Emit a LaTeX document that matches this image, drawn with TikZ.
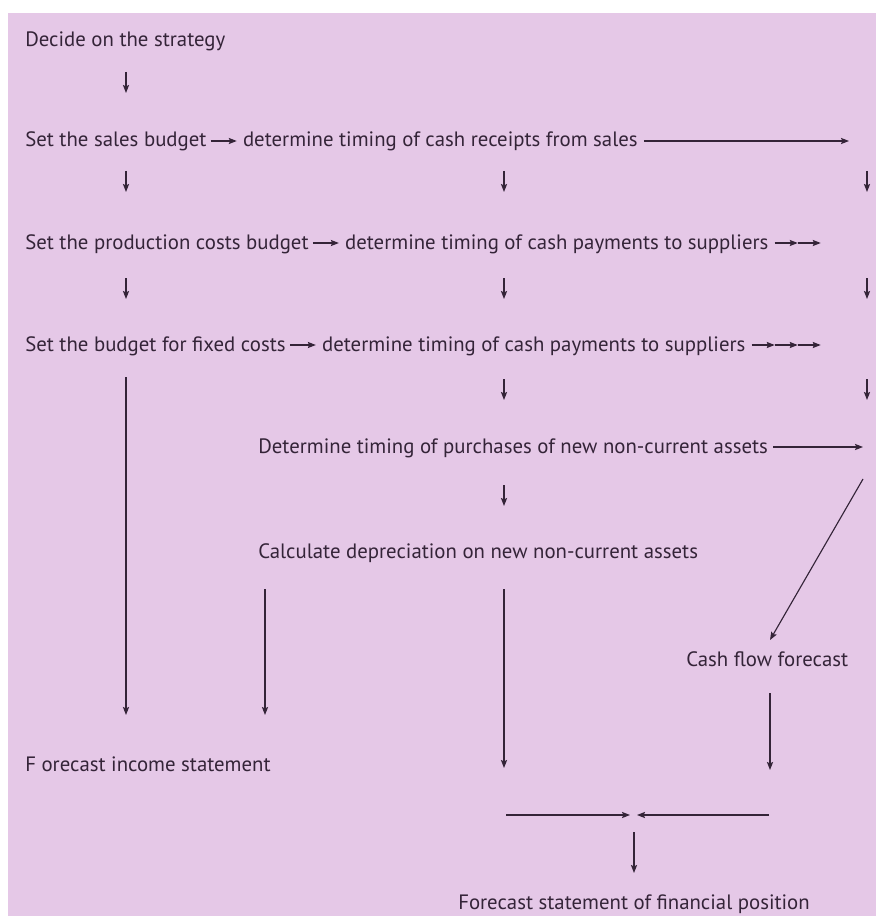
\documentclass[tikz,border=0pt]{standalone}
\usepackage{fontspec}
\setmainfont{PT Sans}
\usetikzlibrary{arrows.meta,calc}
\definecolor{bg}{RGB}{229,200,231}
\definecolor{ink}{RGB}{52,36,56}
\begin{document}
\begin{tikzpicture}[x=0.75pt,y=-0.75pt,
  lbl/.style={anchor=base west,inner sep=0pt,text=ink,font=\fontsize{15.6}{19}\selectfont},
  arr/.style={draw=ink,line width=0.85pt,-{Stealth[length=6pt,width=4.6pt,inset=1pt]}},
  ln/.style={draw=ink,line width=0.85pt}]
\useasboundingbox (0,0) rectangle (876,916);
\fill[white] (0,0) rectangle (876,916);
\fill[bg] (8,13) rectangle (876,916);

% texts
\node[lbl] (t0) at (25,47) {Decide on the strategy};

\node[lbl] (s2) at (25,147) {Set the sales budget};
\path (s2.base east) ++(4,-6) coordinate (s2a) ++(26,0) coordinate (s2b);
\node[lbl] (d2) at ($(s2b)+(6,6)$) {determine timing of cash receipts from sales};
\path (d2.base east) ++(6,-6) coordinate (d2a);
\coordinate (d2b) at (849,141);

\node[lbl] (s3) at (25,249) {Set the production costs budget};
\path (s3.base east) ++(4,-6) coordinate (s3a) ++(26,0) coordinate (s3b);
\node[lbl] (d3) at ($(s3b)+(6,6)$) {determine timing of cash payments to suppliers};
\path (d3.base east) ++(6,-6) coordinate (d3a) ++(23,0) coordinate (d3b) ++(23,0) coordinate (d3c);

\node[lbl] (s4) at (25,351) {Set the budget for fixed costs};
\path (s4.base east) ++(4,-6) coordinate (s4a) ++(26,0) coordinate (s4b);
\node[lbl] (d4) at ($(s4b)+(6,6)$) {determine timing of cash payments to suppliers};
\path (d4.base east) ++(6,-6) coordinate (d4a) ++(23,0) coordinate (d4b) ++(23,0) coordinate (d4c) ++(23,0) coordinate (d4d);

\node[lbl] (nc) at (258,453) {Determine timing of purchases of new non-current assets};
\path (nc.base east) ++(5,-6) coordinate (nca);
\coordinate (ncb) at (863,447);

\node[lbl] (dep) at (258,558) {Calculate depreciation on new non-current assets};
\node[lbl] (cff) at (686,666) {Cash flow forecast};
\node[lbl] (fis) at (25,771) {F orecast income statement};
\node[lbl] (fsp) at (458,909) {Forecast statement of financial position};

% inline arrows
\draw[arr] (s2a) -- (s2b);
\draw[arr] (d2a) -- (d2b);
\draw[arr] (s3a) -- (s3b);
\draw[arr] (d3a) -- (d3b);
\draw[arr] (d3b) -- (d3c);
\draw[arr] (s4a) -- (s4b);
\draw[arr] (d4a) -- (d4b);
\draw[arr] (d4b) -- (d4c);
\draw[arr] (d4c) -- (d4d);
\draw[arr] (nca) -- (ncb);

% coordinates for vertical connectors
\coordinate (v1a) at (126,72);  \coordinate (v1b) at (126,93);
\coordinate (v2a) at (126,171); \coordinate (v2b) at (126,192);
\coordinate (v3a) at (504,171); \coordinate (v3b) at (504,192);
\coordinate (v4a) at (867,171); \coordinate (v4b) at (867,192);
\coordinate (v5a) at (126,278); \coordinate (v5b) at (126,299);
\coordinate (v6a) at (504,278); \coordinate (v6b) at (504,299);
\coordinate (v7a) at (867,278); \coordinate (v7b) at (867,299);
\coordinate (v8a) at (504,379); \coordinate (v8b) at (504,400);
\coordinate (v9a) at (867,379); \coordinate (v9b) at (867,400);
\coordinate (L1a) at (126,377); \coordinate (L1b) at (126,715);
\coordinate (v10a) at (504,485); \coordinate (v10b) at (504,506);
\coordinate (L2a) at (265,589); \coordinate (L2b) at (265,715);
\coordinate (L3a) at (504,589); \coordinate (L3b) at (504,768);
\coordinate (dga) at (863,479); \coordinate (dgb) at (770,640);
\coordinate (L4a) at (770,693); \coordinate (L4b) at (770,770);
\coordinate (h1a) at (506,815); \coordinate (h1b) at (630,815);
\coordinate (h2a) at (769,815); \coordinate (h2b) at (637,815);
\coordinate (v11a) at (634,832); \coordinate (v11b) at (634,873);

\foreach \p in {v1,v2,v3,v4,v5,v6,v7,v8,v9,L1,v10,L2,L3,dg,L4,h1,h2,v11}
  \draw[arr] (\p a) -- (\p b);
\end{tikzpicture}
\end{document}
